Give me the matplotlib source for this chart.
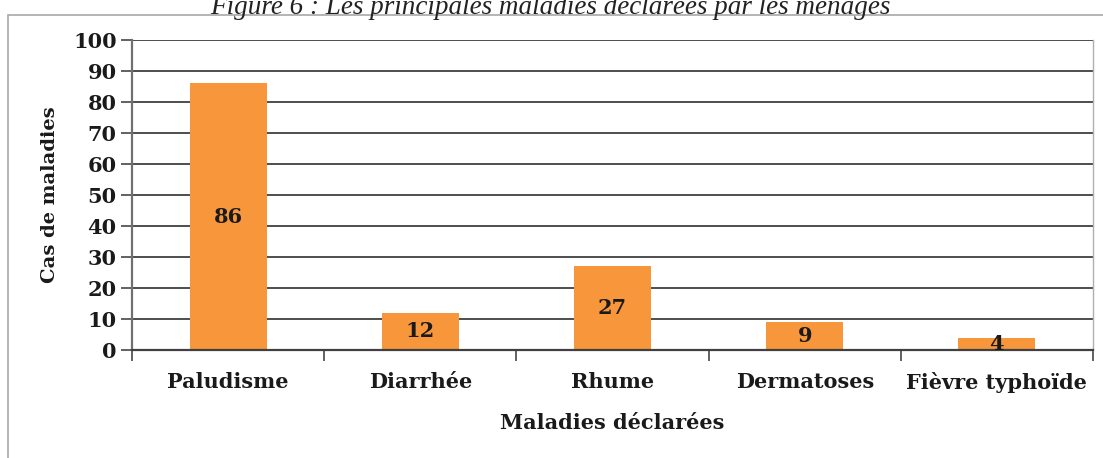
import matplotlib.pyplot as plt
import matplotlib.patches as patches
import numpy as np

# Data
maladies = ["Paludisme", "Diarrhée", "Rhume", "Dermatoses", "Fièvre typhoïde"]
cas = [86, 12, 27, 9, 4]
y_ticks = list(range(0, 101, 10))

plt.rcParams['font.family'] = ['DejaVu Serif']

fig = plt.figure(figsize=(11.03, 4.58), dpi=100)
ax = fig.add_axes([132 / 1103, 1 - 350 / 458, (1093 - 132) / 1103, (350 - 40) / 458])

# outer frame around the chart
fig.patches.append(patches.Rectangle((8 / 1103, -0.01), 1100 / 1103, 1 - 15 / 458 + 0.01,
                                     transform=fig.transFigure, fill=False,
                                     edgecolor='#a8a8a8', linewidth=1.2))

x = np.arange(len(maladies))
ax.set_axisbelow(True)
ax.yaxis.grid(True, color='#404040', linewidth=1.3)
ax.bar(x, cas, width=0.4, color='#F7963A', zorder=2)

for xi, v in zip(x, cas):
    ax.text(xi, v / 2, str(v), ha='center', va='center', fontsize=15,
            fontweight='bold', color='#1a1a1a', zorder=3)

ax.set_xlim(-0.5, len(maladies) - 0.5)
ax.set_ylim(0, 100)
ax.set_yticks(y_ticks)
ax.set_xticks(x)
ax.set_xticklabels(maladies, fontsize=15, fontweight='bold', color='#1a1a1a')
ax.set_xticks(np.arange(-0.5, len(maladies), 1), minor=True)
ax.tick_params(axis='x', which='major', length=0, pad=16)
ax.tick_params(axis='x', which='minor', length=8, width=1.3, color='#555555', direction='out')
ax.tick_params(axis='y', length=8, width=1.3, color='#555555', pad=3, labelsize=15)
for lab in ax.get_yticklabels():
    lab.set_fontweight('bold')
    lab.set_color('#1a1a1a')

ax.spines['top'].set_visible(False)
ax.spines['right'].set_color('#b0b0b0')
ax.spines['right'].set_linewidth(1.0)
ax.spines['left'].set_color('#707070')
ax.spines['left'].set_linewidth(1.6)
ax.spines['bottom'].set_color('#404040')
ax.spines['bottom'].set_linewidth(1.6)

ax.set_ylabel("Cas de maladies", fontsize=14, fontweight='bold', color='#1a1a1a', labelpad=10)
ax.set_xlabel("Maladies déclarées", fontsize=15, fontweight='bold', color='#1a1a1a', labelpad=14)

fig.text(550 / 1103, 1 - 14 / 458, "Figure 6 : Les principales maladies déclarées par les ménages",
         ha='center', va='baseline', fontsize=19.5, style='italic', color='#222222',
         family='Liberation Serif')

plt.savefig("out.png", dpi=100)
